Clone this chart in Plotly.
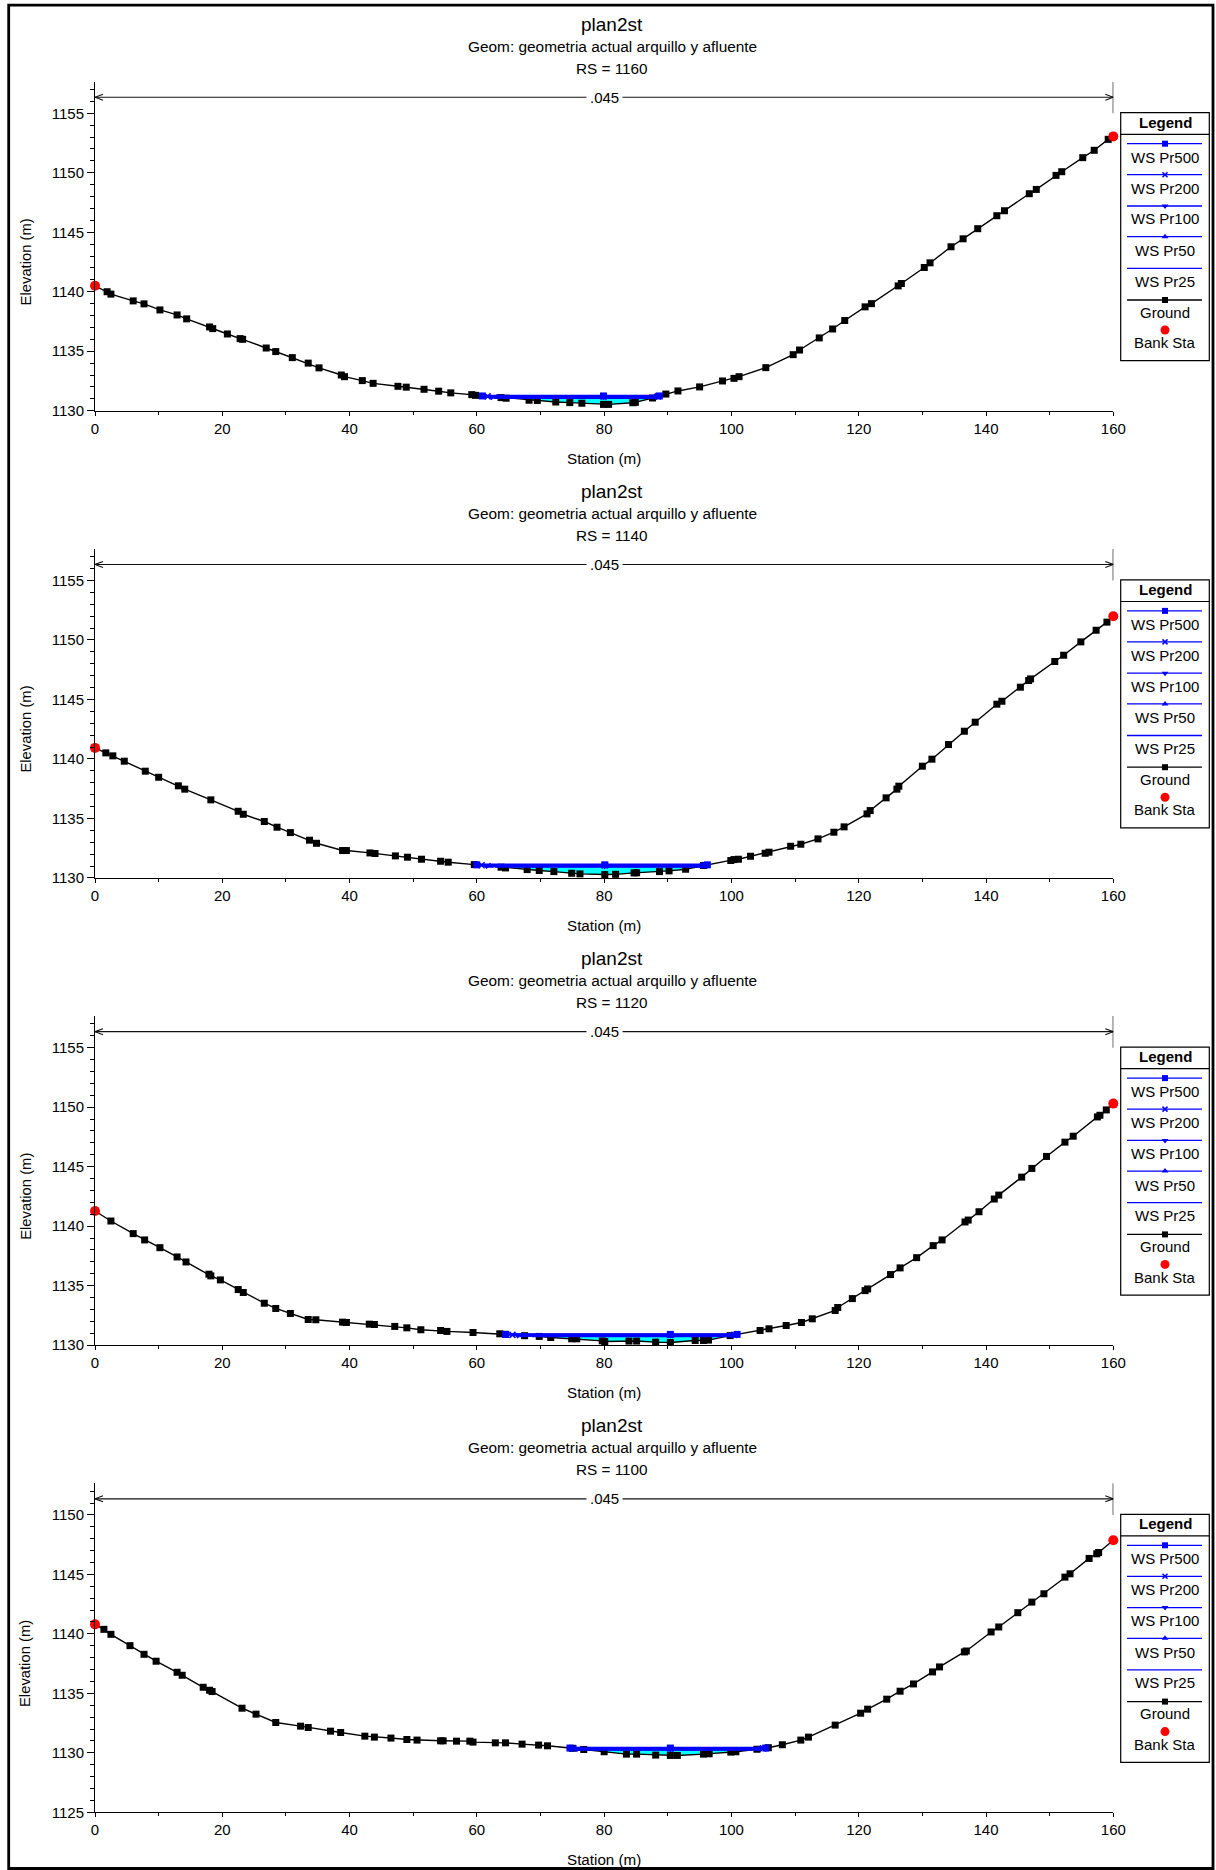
import numpy as np
import plotly.graph_objects as go

W, H = 1216, 1870
FONT = "Arial, 'Liberation Sans', sans-serif"

# ---------------- data ----------------
plan_name = "plan2st"
geom_text = "Geom: geometria actual arquillo y afluente"
rs_labels = ["1160", "1140", "1120", "1100"]
profiles = ["WS Pr500", "WS Pr200", "WS Pr100", "WS Pr50", "WS Pr25"]
profile_symbols = ["square", "x-thin", "triangle-down", "triangle-up", None]
n_values = [".045"]
n_limits = [0, 160]
bank_sta = [0, 160]
y_base = [1130, 1130, 1130, 1125]

sta1 = [0, 1.9, 2.5, 6.0, 7.7, 10.2, 12.9, 14.4, 18.0, 18.5, 20.8, 22.8, 23.2, 26.9, 28.4, 31.0, 33.5, 35.2,
        38.7, 39.2, 42.0, 43.7, 47.6, 48.9, 51.7, 54.0, 55.9, 59.2, 59.8, 63.8, 64.6, 68.2, 69.5, 72.4, 74.6,
        76.5, 79.9, 80.7, 84.5, 84.9, 87.6, 89.7, 91.6, 95.0, 98.6, 100.4, 101.2, 105.4, 109.7, 110.7, 113.8,
        115.9, 117.8, 121.0, 122.0, 126.2, 126.7, 130.3, 131.2, 134.5, 136.4, 138.7, 141.7, 142.9, 146.8,
        147.9, 151.0, 151.9, 155.2, 157.0, 159.2, 160]
elev1 = [1140.5, 1140.0, 1139.8, 1139.23, 1138.98, 1138.47, 1138.05, 1137.72, 1137.04, 1136.9, 1136.45,
         1136.06, 1136.0, 1135.27, 1134.97, 1134.46, 1134.0, 1133.6, 1133.0, 1132.86, 1132.53, 1132.3,
         1132.05, 1131.98, 1131.8, 1131.64, 1131.5, 1131.35, 1131.29, 1131.1, 1131.05, 1130.88, 1130.86,
         1130.73, 1130.68, 1130.63, 1130.53, 1130.53, 1130.67, 1130.7, 1131.07, 1131.4, 1131.66, 1132.0,
         1132.5, 1132.72, 1132.86, 1133.62, 1134.71, 1135.1, 1136.12, 1136.87, 1137.58, 1138.73, 1139.0,
         1140.49, 1140.69, 1142.04, 1142.43, 1143.78, 1144.45, 1145.3, 1146.39, 1146.81, 1148.24, 1148.6,
         1149.78, 1150.09, 1151.27, 1151.89, 1152.81, 1153.06]

sta2 = [0, 1.7, 2.8, 4.6, 7.9, 10.0, 13.1, 14.1, 18.2, 22.5, 23.3, 26.6, 28.6, 30.7, 33.7, 34.8, 38.9, 39.5,
        43.2, 44.0, 47.2, 49.1, 51.3, 54.3, 55.5, 59.6, 63.8, 64.5, 67.9, 69.8, 72.1, 74.9, 76.2, 80.1, 81.8,
        84.7, 85.1, 88.7, 90.2, 92.8, 95.6, 99.9, 100.4, 101.1, 103.0, 105.3, 105.9, 109.3, 110.9, 113.6,
        116.1, 117.7, 121.3, 121.8, 124.3, 126.0, 126.3, 130.0, 131.5, 134.1, 136.6, 138.3, 141.7, 142.5,
        145.4, 146.7, 147.0, 150.8, 152.2, 154.9, 157.3, 159.0, 160]
elev2 = [1140.93, 1140.51, 1140.26, 1139.81, 1138.97, 1138.46, 1137.74, 1137.46, 1136.56, 1135.6, 1135.35,
         1134.74, 1134.26, 1133.81, 1133.17, 1132.91, 1132.3, 1132.3, 1132.1, 1132.05, 1131.85, 1131.74,
         1131.57, 1131.4, 1131.32, 1131.12, 1130.9, 1130.84, 1130.7, 1130.62, 1130.53, 1130.39, 1130.34,
         1130.28, 1130.3, 1130.42, 1130.43, 1130.53, 1130.59, 1130.73, 1131.04, 1131.46, 1131.54, 1131.57,
         1131.82, 1132.07, 1132.16, 1132.66, 1132.83, 1133.28, 1133.84, 1134.29, 1135.38, 1135.66, 1136.73,
         1137.46, 1137.71, 1139.39, 1139.98, 1141.21, 1142.33, 1143.09, 1144.6, 1144.85, 1146.03, 1146.59,
         1146.73, 1148.19, 1148.72, 1149.84, 1150.82, 1151.5, 1152.0]

sta3 = [0, 2.5, 6.0, 7.8, 10.2, 12.9, 14.3, 17.9, 18.2, 19.7, 22.5, 23.3, 26.6, 28.4, 30.7, 33.5, 34.7, 38.9,
        39.5, 43.1, 43.9, 47.1, 49.0, 51.2, 54.3, 55.3, 59.4, 63.6, 64.5, 67.5, 69.8, 71.6, 74.9, 75.7, 79.7,
        80.1, 83.9, 85.1, 88.1, 90.4, 94.3, 95.6, 96.4, 99.8, 104.5, 105.9, 108.6, 111.0, 112.7, 116.3, 116.7,
        119.0, 121.0, 121.4, 125.0, 126.5, 129.1, 131.7, 133.1, 136.7, 137.2, 138.9, 141.3, 142.0, 145.6,
        147.2, 149.5, 152.4, 153.7, 157.5, 157.9, 158.9, 160]
elev3 = [1141.27, 1140.43, 1139.37, 1138.84, 1138.19, 1137.41, 1136.99, 1135.96, 1135.82, 1135.48, 1134.67,
         1134.42, 1133.52, 1133.08, 1132.66, 1132.15, 1132.13, 1131.93, 1131.9, 1131.76, 1131.73, 1131.57,
         1131.45, 1131.29, 1131.23, 1131.15, 1131.06, 1130.95, 1130.9, 1130.79, 1130.73, 1130.64, 1130.53,
         1130.53, 1130.36, 1130.3, 1130.34, 1130.34, 1130.25, 1130.22, 1130.39, 1130.39, 1130.42, 1130.8,
         1131.23, 1131.37, 1131.65, 1131.9, 1132.21, 1132.91, 1133.16, 1133.91, 1134.58, 1134.72, 1135.93,
         1136.49, 1137.35, 1138.36, 1138.84, 1140.35, 1140.51, 1141.21, 1142.28, 1142.61, 1144.12, 1144.85,
         1145.86, 1147.06, 1147.56, 1149.18, 1149.32, 1149.77, 1150.3]

sta4 = [0, 1.4, 2.5, 5.5, 7.7, 9.6, 12.9, 13.7, 17.0, 18.0, 18.4, 23.1, 25.3, 28.4, 32.3, 33.5, 37.0, 38.6,
        42.4, 43.9, 46.5, 49.0, 50.6, 54.3, 54.7, 56.8, 58.9, 59.4, 62.9, 64.5, 67.1, 69.7, 71.1, 75.0, 76.8,
        80.0, 83.5, 85.1, 88.1, 90.4, 91.5, 95.6, 96.5, 99.9, 100.7, 104.0, 105.8, 108.0, 110.9, 112.1, 116.3,
        120.3, 121.4, 124.4, 126.5, 128.6, 131.6, 132.7, 136.6, 136.9, 140.8, 142.0, 145.0, 147.2, 149.1,
        152.4, 153.2, 156.2, 157.4, 157.7, 160]
elev4 = [1140.8, 1140.38, 1139.96, 1139.01, 1138.28, 1137.7, 1136.77, 1136.52, 1135.51, 1135.26, 1135.15,
         1133.75, 1133.25, 1132.55, 1132.24, 1132.13, 1131.82, 1131.71, 1131.4, 1131.32, 1131.24, 1131.12,
         1131.07, 1131.01, 1131.01, 1130.98, 1130.98, 1130.9, 1130.84, 1130.84, 1130.73, 1130.65, 1130.59,
         1130.38, 1130.28, 1130.09, 1129.89, 1129.89, 1129.81, 1129.78, 1129.78, 1129.89, 1129.92, 1130.06,
         1130.09, 1130.3, 1130.43, 1130.68, 1131.07, 1131.32, 1132.33, 1133.33, 1133.67, 1134.51, 1135.18,
         1135.79, 1136.8, 1137.22, 1138.48, 1138.56, 1140.16, 1140.58, 1141.78, 1142.67, 1143.37, 1144.77,
         1145.05, 1146.34, 1146.73, 1146.84, 1147.87]

# water surface elevations per profile (Pr500, Pr200, Pr100, Pr50, Pr25)
ws1 = [1131.24, 1131.20, 1131.17, 1131.13, 1131.09]
ws2 = [1131.10, 1131.06, 1131.02, 1130.99, 1130.95]
ws3 = [1130.90, 1130.86, 1130.83, 1130.80, 1130.76]
ws4 = [1130.40, 1130.37, 1130.34, 1130.31, 1130.27]

stations = [sta1, sta2, sta3, sta4]
elevations = [elev1, elev2, elev3, elev4]
water = [ws1, ws2, ws3, ws4]

# ---------------- layout constants (pixels of the 1216x1870 picture) ----------------
PX_X0, PX_X1 = 95.0, 1113.3
AX_TOP, AX_BOT = 81.7, 410.7
PANEL_DY = 467.2
PX_PER_M = 11.896
Y_SPAN = (AX_BOT - AX_TOP) / PX_PER_M
X_PX_PER_M = (PX_X1 - PX_X0) / 160.0


def px(x):
    return x / W


def py(y):
    return 1 - y / H


def wet_extent(sta, elev, ws):
    sta = np.asarray(sta, float)
    elev = np.asarray(elev, float)
    i0 = int(np.argmin(elev))
    i = i0
    while i > 0 and elev[i - 1] < ws:
        i -= 1
    xl = float(np.interp(ws, [elev[i], elev[i - 1]], [sta[i], sta[i - 1]]))
    j = i0
    while j < len(sta) - 1 and elev[j + 1] < ws:
        j += 1
    xr = float(np.interp(ws, [elev[j], elev[j + 1]], [sta[j], sta[j + 1]]))
    return xl, xr, i, j, float(sta[i0])


fig = go.Figure()
shapes = []
annotations = []
layout_axes = {}

BLUE = "#0000FF"

for k in range(4):
    sfx = "" if k == 0 else str(k + 1)
    xa, ya = "x" + sfx, "y" + sfx
    d = PANEL_DY * k
    top_px, bot_px = AX_TOP + d, AX_BOT + d
    base = y_base[k]
    sta, elev, wsl = stations[k], elevations[k], water[k]

    layout_axes["xaxis" + sfx] = dict(
        domain=[px(PX_X0), px(PX_X1)], range=[0, 160], anchor=ya, automargin=False,
        showline=True, linecolor="black", linewidth=1, mirror=False,
        ticks="outside", ticklen=4, tickwidth=1, tickcolor="black",
        tick0=0, dtick=20, showgrid=False, zeroline=False,
        tickfont=dict(family=FONT, size=15, color="black"),
        minor=dict(dtick=10, tick0=0, ticks="outside", ticklen=3, tickwidth=1, tickcolor="black", showgrid=False),
        fixedrange=True,
    )
    layout_axes["yaxis" + sfx] = dict(
        domain=[py(bot_px), py(top_px)], range=[base, base + Y_SPAN], anchor=xa, automargin=False,
        showline=True, linecolor="black", linewidth=1, mirror=False,
        ticks="outside", ticklen=7, tickwidth=1, tickcolor="black",
        tick0=0, dtick=5, showgrid=False, zeroline=False,
        tickfont=dict(family=FONT, size=15, color="black"),
        minor=dict(dtick=1, tick0=0, ticks="outside", ticklen=4, tickwidth=1, tickcolor="black", showgrid=False),
        fixedrange=True,
    )

    # water fill (highest profile)
    xl, xr, i, j, x_thal = wet_extent(sta, elev, wsl[0])
    fx = [xl] + list(sta[i:j + 1]) + [xr, xl]
    fy = [wsl[0]] + list(elev[i:j + 1]) + [wsl[0], wsl[0]]
    fig.add_trace(go.Scatter(x=fx, y=fy, xaxis=xa, yaxis=ya, mode="lines", fill="toself",
                             fillcolor="#00FFFF", line=dict(width=0, color="#00FFFF"),
                             hoverinfo="skip", showlegend=False))

    # ground
    fig.add_trace(go.Scatter(x=sta, y=elev, xaxis=xa, yaxis=ya, mode="lines+markers",
                             line=dict(color="black", width=1.4),
                             marker=dict(symbol="square", size=7, color="black"),
                             cliponaxis=False, showlegend=False, name="Ground"))

    # water surfaces
    for p in range(len(profiles) - 1, -1, -1):
        wl, wr, _, _, _ = wet_extent(sta, elev, wsl[p])
        sym = profile_symbols[p]
        tr = dict(x=[wl, x_thal, wr], y=[wsl[p]] * 3, xaxis=xa, yaxis=ya,
                  line=dict(color=BLUE, width=2.5), showlegend=False, name=profiles[p], cliponaxis=False)
        if sym is None:
            fig.add_trace(go.Scatter(mode="lines", **tr))
        else:
            mk = dict(symbol=sym, size=7 if sym != "x-thin" else 6, color=BLUE)
            if sym == "x-thin":
                mk["line"] = dict(color=BLUE, width=1.6)
            fig.add_trace(go.Scatter(mode="lines+markers", marker=mk, **tr))

    # bank stations
    fig.add_trace(go.Scatter(x=bank_sta, y=list(np.interp(bank_sta, sta, elev)), xaxis=xa, yaxis=ya,
                             mode="markers", marker=dict(symbol="circle", size=10, color="#FF0000"),
                             cliponaxis=False, showlegend=False, name="Bank Sta"))

    # Manning's n region arrow
    yA = base + 26.35
    top = base + Y_SPAN
    dx = 8 / X_PX_PER_M
    dy = 3 / PX_PER_M
    x0n, x1n = n_limits[0], n_limits[1]
    shapes.append(dict(type="line", xref=xa, yref=ya, x0=x0n, x1=x1n, y0=yA, y1=yA,
                       line=dict(color="#111111", width=1.1)))
    shapes.append(dict(type="path", xref=xa, yref=ya,
                       path=f"M {x0n + dx},{yA + dy} L {x0n},{yA} L {x0n + dx},{yA - dy}",
                       line=dict(color="#111111", width=1.1)))
    shapes.append(dict(type="path", xref=xa, yref=ya,
                       path=f"M {x1n - dx},{yA + dy} L {x1n},{yA} L {x1n - dx},{yA - dy}",
                       line=dict(color="#111111", width=1.1)))
    shapes.append(dict(type="line", xref=xa, yref=ya, x0=x1n, x1=x1n, y0=base + 25.0, y1=top,
                       line=dict(color="black", width=1.2)))
    annotations.append(dict(xref=xa, yref=ya, x=(x0n + x1n) / 2, y=yA, text=n_values[0], showarrow=False,
                            bgcolor="white", borderpad=3, font=dict(family=FONT, size=15, color="black"),
                            xanchor="center", yanchor="middle"))

    # titles
    cx = px(612)
    annotations.append(dict(xref="paper", yref="paper", x=cx, y=py(24.3 + d), text=plan_name,
                            showarrow=False, xanchor="center", yanchor="middle",
                            font=dict(family=FONT, size=19, color="black")))
    annotations.append(dict(xref="paper", yref="paper", x=cx, y=py(46 + d), text=geom_text,
                            showarrow=False, xanchor="center", yanchor="middle",
                            font=dict(family=FONT, size=15.4, color="black")))
    annotations.append(dict(xref="paper", yref="paper", x=cx, y=py(68.3 + d), text="RS = " + rs_labels[k],
                            showarrow=False, xanchor="center", yanchor="middle",
                            font=dict(family=FONT, size=15.3, color="black")))
    # axis titles
    annotations.append(dict(xref="paper", yref="paper", x=px(604), y=py(458.3 + d), text="Station (m)",
                            showarrow=False, xanchor="center", yanchor="middle",
                            font=dict(family=FONT, size=15.2, color="black")))
    annotations.append(dict(xref="paper", yref="paper", x=px(25.7), y=py(261.7 + d), text="Elevation (m)",
                            showarrow=False, xanchor="center", yanchor="middle", textangle=-90,
                            font=dict(family=FONT, size=14.8, color="black")))

    # legend box
    LX0, LX1 = 1120.7, 1209.3
    shapes.append(dict(type="rect", xref="paper", yref="paper", x0=px(LX0), x1=px(LX1),
                       y0=py(112.7 + d), y1=py(360.7 + d), line=dict(color="black", width=1.2),
                       fillcolor="white", layer="below"))
    shapes.append(dict(type="line", xref="paper", yref="paper", x0=px(LX0), x1=px(LX1),
                       y0=py(134.3 + d), y1=py(134.3 + d), line=dict(color="black", width=1.2)))
    annotations.append(dict(xref="paper", yref="paper", x=px(1165), y=py(122.3 + d), text="<b>Legend</b>",
                            showarrow=False, xanchor="center", yanchor="middle",
                            font=dict(family=FONT, size=15, color="black")))
    line_rows = [143.7, 174.7, 206.0, 236.7, 268.3, 300.0]
    text_rows = [157.3, 188.3, 219.0, 250.7, 281.0, 312.3, 342.7]
    leg_names = profiles + ["Ground", "Bank Sta"]
    leg_colors = [BLUE] * 5 + ["black"]
    for r, ly in enumerate(line_rows):
        shapes.append(dict(type="line", xref="paper", yref="paper", x0=px(1127), x1=px(1202),
                           y0=py(ly + d), y1=py(ly + d), line=dict(color=leg_colors[r], width=1.3)))
    for r, ty in enumerate(text_rows):
        annotations.append(dict(xref="paper", yref="paper", x=px(1165), y=py(ty + d), text=leg_names[r],
                                showarrow=False, xanchor="center", yanchor="middle",
                                font=dict(family=FONT, size=15, color="black")))
    # legend symbols on a pixel overlay axis
    sym_list = [("square", BLUE, 6, line_rows[0]), ("x-thin", BLUE, 5, line_rows[1]),
                ("triangle-down", BLUE, 6, line_rows[2]), ("triangle-up", BLUE, 6, line_rows[3]),
                ("square", "black", 6, line_rows[5]), ("circle", "#FF0000", 9, 330.0)]
    for sym, col, sz, yy in sym_list:
        mk = dict(symbol=sym, size=sz, color=col)
        if sym == "x-thin":
            mk["line"] = dict(color=col, width=1.5)
        fig.add_trace(go.Scatter(x=[1165], y=[yy + d], xaxis="x5", yaxis="y5", mode="markers",
                                 marker=mk, hoverinfo="skip", showlegend=False, cliponaxis=False))

# outer frame
shapes.append(dict(type="rect", xref="paper", yref="paper", x0=px(8.7), x1=px(1213), y0=py(5.2), y1=py(1868.5),
                   line=dict(color="black", width=2.8)))

layout_axes["xaxis5"] = dict(domain=[0, 1], range=[0, W], visible=False, anchor="y5", fixedrange=True,
                             automargin=False)
layout_axes["yaxis5"] = dict(domain=[0, 1], range=[H, 0], visible=False, anchor="x5", fixedrange=True,
                             automargin=False)

fig.update_layout(
    width=W, height=H, autosize=False,
    margin=dict(l=0, r=0, t=0, b=0, pad=0, autoexpand=False),
    paper_bgcolor="white", plot_bgcolor="rgba(0,0,0,0)",
    showlegend=False, shapes=shapes, annotations=annotations,
    font=dict(family=FONT, size=15, color="black"),
    **layout_axes,
)

fig.write_html(
    "out.html",
    config={"displayModeBar": False},
    post_script="document.body.style.margin='0';document.body.style.overflow='hidden';",
)
